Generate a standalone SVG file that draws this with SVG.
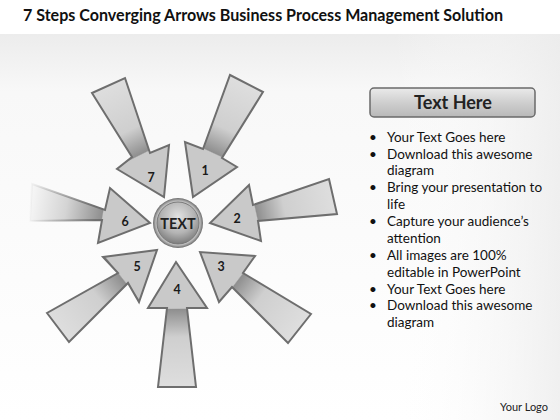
<svg xmlns="http://www.w3.org/2000/svg" width="560" height="420" viewBox="0 0 560 420">
<defs>
<linearGradient id="bg" x1="0" y1="0" x2="0" y2="1">
<stop offset="0" stop-color="#ececec"/>
<stop offset="0.15" stop-color="#f8f8f8"/>
<stop offset="1" stop-color="#ffffff"/>
</linearGradient>
<linearGradient id="bgR" x1="0" y1="0" x2="1" y2="0">
<stop offset="0.7" stop-color="#ffffff" stop-opacity="0"/>
<stop offset="1" stop-color="#ececec" stop-opacity="0.8"/>
</linearGradient>
<linearGradient id="g7" gradientUnits="userSpaceOnUse" x1="108" y1="85" x2="164" y2="197">
<stop offset="0" stop-color="#dedede"/><stop offset="0.4" stop-color="#cfcfcf"/><stop offset="0.61" stop-color="#8f8f8f"/><stop offset="0.62" stop-color="#c9c9c9"/><stop offset="1" stop-color="#c9c9c9"/>
</linearGradient>
<linearGradient id="g1" gradientUnits="userSpaceOnUse" x1="246" y1="83" x2="193" y2="197">
<stop offset="0" stop-color="#dedede"/><stop offset="0.4" stop-color="#cfcfcf"/><stop offset="0.61" stop-color="#8f8f8f"/><stop offset="0.62" stop-color="#c9c9c9"/><stop offset="1" stop-color="#c9c9c9"/>
</linearGradient>
<linearGradient id="g6" gradientUnits="userSpaceOnUse" x1="30" y1="203" x2="150" y2="223">
<stop offset="0" stop-color="#f6f6f6"/><stop offset="0.3" stop-color="#d4d4d4"/><stop offset="0.6" stop-color="#8f8f8f"/><stop offset="0.61" stop-color="#c9c9c9"/><stop offset="1" stop-color="#c9c9c9"/>
</linearGradient>
<linearGradient id="s6" gradientUnits="userSpaceOnUse" x1="28" y1="0" x2="95" y2="0">
<stop offset="0" stop-color="#6e6e6e" stop-opacity="0"/><stop offset="1" stop-color="#6e6e6e" stop-opacity="1"/>
</linearGradient>
<linearGradient id="g2" gradientUnits="userSpaceOnUse" x1="333" y1="196" x2="210" y2="223">
<stop offset="0" stop-color="#dedede"/><stop offset="0.4" stop-color="#cfcfcf"/><stop offset="0.62" stop-color="#8f8f8f"/><stop offset="0.63" stop-color="#c9c9c9"/><stop offset="1" stop-color="#c9c9c9"/>
</linearGradient>
<linearGradient id="g3" gradientUnits="userSpaceOnUse" x1="300" y1="328" x2="200" y2="252">
<stop offset="0" stop-color="#dedede"/><stop offset="0.4" stop-color="#cfcfcf"/><stop offset="0.62" stop-color="#8f8f8f"/><stop offset="0.63" stop-color="#c9c9c9"/><stop offset="1" stop-color="#c9c9c9"/>
</linearGradient>
<linearGradient id="g4" gradientUnits="userSpaceOnUse" x1="177" y1="387" x2="176" y2="262">
<stop offset="0" stop-color="#dedede"/><stop offset="0.4" stop-color="#cfcfcf"/><stop offset="0.62" stop-color="#8f8f8f"/><stop offset="0.63" stop-color="#c9c9c9"/><stop offset="1" stop-color="#c9c9c9"/>
</linearGradient>
<linearGradient id="g5" gradientUnits="userSpaceOnUse" x1="58" y1="328" x2="157" y2="250">
<stop offset="0" stop-color="#dedede"/><stop offset="0.4" stop-color="#cfcfcf"/><stop offset="0.64" stop-color="#8f8f8f"/><stop offset="0.65" stop-color="#c9c9c9"/><stop offset="1" stop-color="#c9c9c9"/>
</linearGradient>
<radialGradient id="ballOuter" cx="0.5" cy="0.5" r="0.5">
<stop offset="0.8" stop-color="#f2f2f2"/>
<stop offset="1" stop-color="#6a6a6a"/>
</radialGradient>
<radialGradient id="ballInner" cx="0.5" cy="0.35" r="0.65">
<stop offset="0" stop-color="#e2e2e2"/>
<stop offset="0.6" stop-color="#b4b4b4"/>
<stop offset="1" stop-color="#7c7c7c"/>
</radialGradient>
<linearGradient id="hdr" x1="0" y1="0" x2="0" y2="1">
<stop offset="0" stop-color="#eaeaea"/>
<stop offset="0.5" stop-color="#cfcfcf"/>
<stop offset="1" stop-color="#b8b8b8"/>
</linearGradient>
</defs>
<style>
.arrow{stroke:#6e6e6e;stroke-width:2;stroke-linejoin:miter}
.fade{stroke:url(#s6)}
.num{font-family:Lato,"Liberation Sans",sans-serif;font-weight:bold;font-size:12.5px;fill:#1a1a1a;text-anchor:middle}
.bul{font-family:Lato,"Liberation Sans",sans-serif;font-size:13.5px;fill:#111}
</style>
<rect x="0" y="0" width="560" height="420" fill="#ffffff"/>
<rect x="0" y="34" width="560" height="386" fill="url(#bg)"/>
<rect x="0" y="34" width="560" height="386" fill="url(#bgR)"/>
<text x="263" y="21" text-anchor="middle" textLength="480" lengthAdjust="spacingAndGlyphs" font-family="Lato, 'Liberation Sans', sans-serif" font-weight="bold" font-size="17" fill="#111">7 Steps Converging Arrows Business Process Management Solution</text>

<g id="arrow7"><polygon class="arrow" fill="url(#g7)" points="92,93 125,78 150,153 169,145 164,197 117,169 132,157"/><text class="num" x="151" y="182">7</text></g>
<g id="arrow1"><polygon class="arrow" fill="url(#g1)" points="230,75 263,92 222,158 237,167 193,197 185,142 203,149"/><text class="num" x="205" y="175">1</text></g>
<g id="arrow6"><polygon class="arrow fade" fill="url(#g6)" points="32,184 105,210 110,188 150,223 98,243 102,220 30,221"/><text class="num" x="125" y="226">6</text></g>
<g id="arrow2"><polygon class="arrow" fill="url(#g2)" points="329,179 337,214 258,221 261,241 210,223 249,185 253,205"/><text class="num" x="237" y="223">2</text></g>
<g id="arrow3"><polygon class="arrow" fill="url(#g3)" points="311,314 288,343 232,287 219,302 200,252 255,256 243,273"/><text class="num" x="221" y="271">3</text></g>
<g id="arrow4"><polygon class="arrow" fill="url(#g4)" points="158,387 196,387 187,308 207,308 176,262 148,308 167,308"/><text class="num" x="177" y="294">4</text></g>
<g id="arrow5"><polygon class="arrow" fill="url(#g5)" points="47,313 69,342 128,283 139,302 157,250 103,257 118,273"/><text class="num" x="137" y="271">5</text></g>

<g id="center">
<circle cx="178" cy="223" r="25" fill="url(#ballOuter)"/>
<circle cx="178" cy="223" r="21" fill="url(#ballInner)" stroke="#777" stroke-width="1"/>
<text x="178" y="228.5" text-anchor="middle" font-family="Lato, 'Liberation Sans', sans-serif" font-weight="bold" font-size="14.5" fill="#222">TEXT</text>
</g>

<g id="header">
<rect x="370" y="88" width="165" height="29" rx="4" fill="url(#hdr)" stroke="#6a6a6a" stroke-width="1.5"/>
<text x="453" y="109" text-anchor="middle" font-family="Lato, 'Liberation Sans', sans-serif" font-weight="bold" font-size="18" fill="#222">Text Here</text>
</g>

<g id="bullets">
<text class="bul" x="369" y="141.5">•</text><text class="bul" x="387" y="141.5">Your Text Goes here</text>
<text class="bul" x="369" y="158.5">•</text><text class="bul" x="387" y="158.5">Download this awesome</text>
<text class="bul" x="387" y="174.5">diagram</text>
<text class="bul" x="369" y="191.5">•</text><text class="bul" x="387" y="191.5">Bring your presentation to</text>
<text class="bul" x="387" y="208.5">life</text>
<text class="bul" x="369" y="226">•</text><text class="bul" x="387" y="226">Capture your audience’s</text>
<text class="bul" x="387" y="242.5">attention</text>
<text class="bul" x="369" y="259.5">•</text><text class="bul" x="387" y="259.5">All images are 100%</text>
<text class="bul" x="387" y="276.5">editable in PowerPoint</text>
<text class="bul" x="369" y="293.5">•</text><text class="bul" x="387" y="293.5">Your Text Goes here</text>
<text class="bul" x="369" y="310">•</text><text class="bul" x="387" y="310">Download this awesome</text>
<text class="bul" x="387" y="326.5">diagram</text>
</g>
<text x="524" y="411" text-anchor="middle" font-family="Lato, 'Liberation Sans', sans-serif" font-size="11" fill="#222">Your Logo</text>
</svg>
